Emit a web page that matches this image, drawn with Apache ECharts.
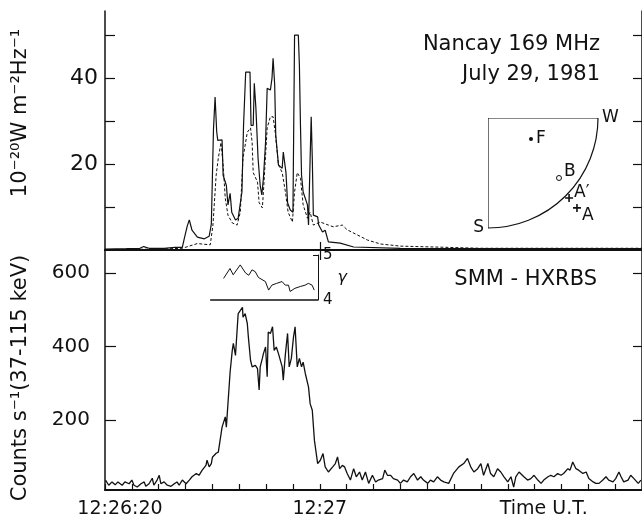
<!DOCTYPE html>
<html><head><meta charset="utf-8">
<script src="https://cdn.jsdelivr.net/npm/echarts@6/dist/echarts.min.js"></script>
<style>html,body{margin:0;padding:0;background:#fff}#c{width:642px;height:520px}</style>
</head><body><div id="c"></div>
<script>
// time values are seconds after 12:26:00 UT
const radioSolid = [[20,0.2],[24,0.3],[26.5,0.4],[27.2,0.8],[28.2,0.4],[31,0.4],[33,0.6],[34.4,0.6],[34.7,2.3],[35.3,5.5],[35.7,7],[36.2,4.6],[37.2,3],[38.5,2.6],[39.4,3.2],[39.8,6],[40.0,17],[40.2,28],[40.5,35.6],[40.8,27.5],[41.0,25.5],[41.8,25.6],[42.0,17.4],[42.6,15],[42.9,10.5],[43.3,13.2],[43.6,8.8],[44.3,7],[44.8,7.4],[45.5,13.5],[45.8,29],[46.2,41.4],[47.0,41.4],[47.2,29],[47.6,29],[47.8,38.8],[48.1,33],[48.5,21.4],[48.9,15],[49.2,12.8],[49.5,16.7],[49.9,25],[50.2,37.6],[50.8,37.2],[51.1,40],[51.3,44.6],[51.6,38.4],[51.8,26.7],[52.3,19.8],[53.0,19],[53.2,22.8],[53.7,18],[54.0,11],[54.5,9.3],[55.0,8.8],[55.3,50],[56.0,50],[56.2,43],[56.4,29],[56.6,17.4],[56.9,13.5],[57.7,10.5],[57.9,5.8],[58.2,21.4],[58.4,31],[58.6,21.4],[58.8,8.1],[59.6,7.7],[59.8,5.8],[60.5,4.2],[61.0,4.6],[61.6,1.9],[63.8,1.6],[66.3,0.7],[75,0.4],[90,0.3],[120,0.3]];
const radioDashed = [[20,0.1],[30,0.2],[34.4,0.4],[37.2,1.5],[39.6,1.2],[40.1,5.8],[40.7,17.4],[41.1,21.4],[41.6,25],[42.0,19.8],[42.4,12],[42.9,8.1],[43.7,6.3],[44.6,5.8],[45.2,8.8],[45.7,21.4],[46.5,27.4],[47.1,28.4],[47.4,25],[47.6,18],[48.4,15.8],[48.7,11],[49.3,9.8],[49.5,13.5],[50.2,28.4],[50.8,31],[51.3,31],[51.7,27.4],[52.3,19.8],[53.0,18],[53.6,13.5],[54.1,8.8],[54.9,6.5],[55.3,13.5],[55.8,18],[56.4,16.7],[56.9,10.5],[57.7,7.4],[58.2,8.8],[58.8,5.8],[60.1,6.5],[61.6,5.8],[62.5,5.4],[64.2,5.8],[65.1,4.7],[67.0,3.5],[68.9,2.3],[71.3,1.4],[75,0.9],[81.2,0.7],[90,0.4],[120,0.4]];
const hxrCounts = [[20.1,37],[20.7,23],[21.3,32],[21.9,24],[22.4,32],[23.2,23],[23.7,32],[24.5,27],[25.0,37],[25.4,23],[26.0,18],[26.7,27],[27.3,32],[27.6,20],[28.2,27],[28.8,42],[29.1,23],[29.7,37],[30.1,50],[30.4,27],[31.0,32],[31.6,23],[32.3,20],[32.9,27],[33.4,32],[33.8,23],[34.4,37],[35.1,27],[35.7,37],[36.2,46],[37.0,55],[37.5,50],[38.1,64],[38.8,77],[39.0,91],[39.4,73],[39.8,82],[40.0,99],[40.7,110],[41.1,113],[41.8,181],[42.4,209],[42.6,181],[43.3,331],[43.7,390],[43.9,409],[44.3,376],[44.6,445],[44.8,490],[45.6,507],[45.7,480],[46.1,490],[46.5,463],[46.7,426],[47.1,363],[47.4,345],[48.0,349],[48.4,340],[48.7,282],[48.9,345],[49.3,368],[49.5,381],[49.9,399],[50.2,318],[50.4,440],[50.8,436],[51.2,454],[51.5,390],[51.9,399],[52.3,381],[53.0,345],[53.2,309],[53.6,381],[54.0,436],[54.3,345],[54.7,368],[55.1,426],[55.4,454],[55.8,345],[56.2,368],[56.6,345],[56.9,358],[57.3,327],[57.9,290],[58.2,245],[58.6,227],[59.0,145],[59.6,82],[60.1,91],[60.6,109],[61.0,73],[61.6,59],[62.4,73],[62.9,82],[63.3,100],[63.7,68],[64.2,77],[64.6,73],[65.1,55],[65.7,37],[66.3,68],[66.8,46],[67.4,59],[67.9,37],[68.5,59],[69.1,28],[69.8,50],[70.4,32],[70.9,37],[71.7,41],[72.1,64],[72.6,50],[73.2,50],[73.7,41],[74.5,37],[75.0,28],[75.6,37],[76.3,32],[76.9,46],[77.5,55],[78.2,37],[78.8,46],[79.3,37],[80.1,28],[80.6,37],[81.2,32],[81.9,46],[82.5,37],[83.1,32],[84.0,28],[84.9,55],[85.9,73],[86.8,82],[87.5,96],[88.1,73],[88.7,59],[89.4,68],[90.0,82],[90.5,50],[91.3,82],[91.8,55],[92.4,46],[93.1,68],[93.7,59],[94.3,46],[95.0,32],[95.6,46],[96.1,18],[96.5,46],[97.1,59],[97.4,64],[98.0,46],[98.7,37],[99.3,41],[99.9,50],[100.6,37],[101.2,28],[101.7,37],[102.5,46],[103.0,50],[103.6,46],[104.3,55],[104.9,50],[105.4,55],[106.2,68],[106.6,64],[107.1,86],[107.7,68],[108.2,64],[109.0,55],[109.6,59],[110.1,41],[110.9,32],[111.4,28],[112.0,28],[112.7,37],[113.3,46],[113.8,37],[114.6,32],[115.1,41],[115.7,59],[116.1,46],[116.6,32],[117.4,37],[117.9,50],[118.5,41],[119.3,28],[119.8,37]];
const gammaIndex = [[42.1,4.48],[43.3,4.70],[43.9,4.56],[45.2,4.78],[46.2,4.60],[46.8,4.55],[47.4,4.67],[48.0,4.63],[48.6,4.50],[49.9,4.41],[50.5,4.22],[51.1,4.33],[52.0,4.37],[53.0,4.41],[53.6,4.33],[54.2,4.33],[54.5,4.19],[55.4,4.26],[56.4,4.30],[57.3,4.33],[57.9,4.37],[58.6,4.33],[59.0,4.22]];
const gammaBase = [[39.6,4],[59.7,4]];
const radioTicks = [10,20,30,40,50];
const radioLabels = [20,40];
const hxrTicks = [200,400,600];
const timeTicks = [20,25,30,35,40,45,50,55,60,65,70,75,80,85,90,95,100,105,110,115,120];
const timeLabelPos = [22.8,60,101.7];
const timeLabelText = ['12:26:20','12:27','Time U.T.'];
const gammaTickLabels = [4,5];
// solar disk quadrant: [label, radius (R_sun), angle from W towards S (deg)]
const diskCorners = [['W',1,0],['S',1,90]];
const diskSources = [['F',0.435,26],['B',0.845,40.2],['A\u2032',1.035,44.6],['A',1.15,45.3]];

const FONT = '"DejaVu Sans", sans-serif';
const K = '#111';
const plus = 'path://M4,0L6,0L6,4L10,4L10,6L6,6L6,10L4,10L4,6L0,6L0,4L4,4Z';

const srcStyle = {
  'F': {symbol:'circle', symbolSize:4, itemStyle:{color:K, opacity:1}, label:{position:'right', distance:3}},
  'B': {symbol:'circle', symbolSize:5, itemStyle:{color:'#fff', borderColor:K, borderWidth:1, opacity:1}, label:{position:'right', distance:2, offset:[0,-6]}},
  'A\u2032': {symbol:plus, symbolSize:8, itemStyle:{color:K, opacity:1}, label:{position:'right', distance:1, offset:[0,-5]}},
  'A': {symbol:plus, symbolSize:8, itemStyle:{color:K, opacity:1}, label:{position:'right', distance:1, offset:[0,8]}}
};

const hiddenAngle = {type:'value', min:0, max:90, startAngle:0, endAngle:-90, clockwise:true,
  axisLine:{show:false}, axisTick:{show:false}, axisLabel:{show:false}, splitLine:{show:false}, splitArea:{show:false}};
const hiddenRadius = {axisLine:{show:false}, axisTick:{show:false}, axisLabel:{show:false}, splitLine:{show:false}, splitArea:{show:false}};
const diskLabel = {show:true, color:K, opacity:1, fontFamily:FONT, fontSize:17, formatter:(p)=>p.name};

const chart = echarts.init(document.getElementById('c'), null, {renderer:'canvas'});
const option = {
  animation: false,
  backgroundColor: '#fff',
  grid: [
    {left:105, right:0, top:11, height:239},
    {left:105, right:0, top:250, height:240},
    {left:105, right:324, top:255, height:45}
  ],
  xAxis: [
    {gridIndex:0, type:'value', min:20, max:120, position:'bottom',
     axisLine:{lineStyle:{color:K, width:2}},
     axisTick:{customValues:[60], inside:true, length:8, lineStyle:{color:K, width:1.2}},
     axisLabel:{show:false}, splitLine:{show:false}},
    {gridIndex:0, type:'value', min:20, max:120, position:'top',
     axisLine:{lineStyle:{color:K, width:2}},
     axisTick:{customValues:[60], inside:true, length:10, lineStyle:{color:K, width:1.2}},
     axisLabel:{show:false}, splitLine:{show:false}},
    {gridIndex:1, type:'value', min:20, max:120, position:'bottom',
     axisLine:{lineStyle:{color:K, width:2}},
     axisTick:{customValues:timeTicks, inside:true, length:6, lineStyle:{color:K, width:1.2}},
     axisLabel:{customValues:timeLabelPos, margin:10, color:K, fontFamily:FONT, fontSize:19,
       formatter:(v)=>{const i=timeLabelPos.indexOf(v); return i>=0?timeLabelText[i]:'';}},
     splitLine:{show:false}},
    {gridIndex:2, type:'value', min:20, max:59.7, show:false}
  ],
  yAxis: [
    {gridIndex:0, type:'value', min:0, max:55.6, position:'left',
     axisLine:{show:true, lineStyle:{color:K, width:1.5}},
     axisTick:{customValues:radioTicks, inside:true, length:10, lineStyle:{color:K, width:1.2}},
     axisLabel:{customValues:radioLabels, margin:7, color:K, fontFamily:FONT, fontSize:22},
     splitLine:{show:false}},
    {gridIndex:0, type:'value', min:0, max:55.6, position:'right',
     axisLine:{show:true, lineStyle:{color:K, width:1.5}},
     axisTick:{customValues:radioTicks, inside:true, length:9, lineStyle:{color:K, width:1.2}},
     axisLabel:{show:false}, splitLine:{show:false}},
    {gridIndex:1, type:'value', min:10, max:663, position:'left',
     axisLine:{show:true, lineStyle:{color:K, width:1.5}},
     axisTick:{customValues:hxrTicks, inside:true, length:11, lineStyle:{color:K, width:1.2}},
     axisLabel:{customValues:hxrTicks, margin:15, color:K, fontFamily:FONT, fontSize:20},
     splitLine:{show:false}},
    {gridIndex:1, type:'value', min:10, max:663, position:'right',
     axisLine:{show:true, lineStyle:{color:K, width:1.5}},
     axisTick:{customValues:hxrTicks, inside:true, length:9, lineStyle:{color:K, width:1.2}},
     axisLabel:{show:false}, splitLine:{show:false}},
    {gridIndex:2, type:'value', min:4, max:5, position:'right',
     axisLine:{show:true, lineStyle:{color:K, width:1}},
     axisTick:{customValues:[5], inside:true, length:5, lineStyle:{color:K, width:1}},
     axisLabel:{customValues:gammaTickLabels, margin:5, color:K, fontFamily:FONT, fontSize:15},
     name:'\u03b3', nameLocation:'middle', nameRotate:0, nameGap:12,
     nameTextStyle:{color:K, fontFamily:FONT, fontSize:16, fontStyle:'italic'},
     splitLine:{show:false}}
  ],
  polar: [
    {center:[488,118], radius:110},
    {center:[488,118], radius:132}
  ],
  angleAxis: [
    {polarIndex:0, type:'value', min:0, max:90, startAngle:0, endAngle:-90, clockwise:true,
     axisLine:{show:true, lineStyle:{color:K, width:1.2}},
     axisTick:{show:false}, axisLabel:{show:false}, splitLine:{show:false}, splitArea:{show:false}},
    Object.assign({polarIndex:1}, hiddenAngle)
  ],
  radiusAxis: [
    Object.assign({polarIndex:0, type:'value', min:0, max:1}, hiddenRadius),
    Object.assign({polarIndex:1, type:'value', min:0, max:1.2}, hiddenRadius)
  ],
  series: [
    {type:'line', xAxisIndex:0, yAxisIndex:0, data:radioSolid, symbol:'none', lineStyle:{color:K, width:1.2}},
    {type:'line', xAxisIndex:0, yAxisIndex:0, data:radioDashed, symbol:'none', lineStyle:{color:K, width:1, type:[3,2]}},
    {type:'line', xAxisIndex:2, yAxisIndex:2, data:hxrCounts, symbol:'none', lineStyle:{color:K, width:1.3}},
    {type:'line', xAxisIndex:3, yAxisIndex:4, data:gammaIndex, symbol:'none', lineStyle:{color:K, width:1}},
    {type:'line', xAxisIndex:3, yAxisIndex:4, data:gammaBase, symbol:'none', clip:false, lineStyle:{color:K, width:1.3}},
    {type:'line', coordinateSystem:'polar', polarIndex:0, symbol:'none', lineStyle:{color:K, width:1.2},
     data:[[diskCorners[0][1], diskCorners[0][2]], [0,0], [diskCorners[1][1], diskCorners[1][2]]]},
    {type:'scatter', coordinateSystem:'polar', polarIndex:0, symbolSize:0.1, itemStyle:{color:K, opacity:1},
     label:diskLabel,
     data: diskCorners.map(c=>({name:c[0], value:[c[1],c[2]], label:{position: c[0]==='W'?'right':'left', distance:4}}))},
    {type:'scatter', coordinateSystem:'polar', polarIndex:1, itemStyle:{opacity:1},
     label:diskLabel,
     data: diskSources.map(s=>Object.assign({name:s[0], value:[s[1],s[2]]}, srcStyle[s[0]]))}
  ],
  graphic: [
    {type:'text', x:600, y:45, style:{text:'Nancay 169 MHz', font:'21px '+FONT, fill:K, textAlign:'right', textVerticalAlign:'middle', align:'right', verticalAlign:'middle'}},
    {type:'text', x:600, y:75, style:{text:'July 29, 1981', font:'21px '+FONT, fill:K, textAlign:'right', textVerticalAlign:'middle', align:'right', verticalAlign:'middle'}},
    {type:'text', x:597, y:280, style:{text:'SMM - HXRBS', font:'21px '+FONT, fill:K, textAlign:'right', textVerticalAlign:'middle', align:'right', verticalAlign:'middle'}},
    {type:'text', x:21, y:113, rotation:Math.PI/2, style:{text:'10\u207b\u00b2\u2070W m\u207b\u00b2Hz\u207b\u00b9', font:'21px '+FONT, fill:K, textAlign:'center', textVerticalAlign:'middle', align:'center', verticalAlign:'middle'}},
    {type:'text', x:21, y:378, rotation:Math.PI/2, style:{text:'Counts s\u207b\u00b9(37-115 keV)', font:'21px '+FONT, fill:K, textAlign:'center', textVerticalAlign:'middle', align:'center', verticalAlign:'middle'}}
  ]
};
chart.setOption(option);
</script></body></html>
